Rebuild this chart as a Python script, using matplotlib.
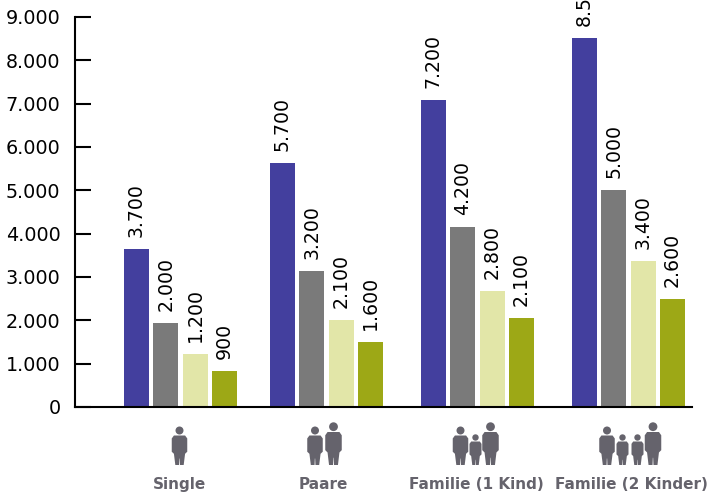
#!/usr/bin/env python3
"""Grouped bars by household type, with pictograms under each group."""

import matplotlib
import matplotlib.pyplot as plt
from matplotlib.patches import Circle, Polygon

matplotlib.use("Agg")

# Colors
BLUE = "#433f9e"
GRAY = "#7a7a7a"
PALE = "#e2e6a8"
OLIVE = "#9da816"
ICON = "#65636c"

W, H = 711, 494
DPI = 100

# Data
categories = ["Single", "Paare", "Familie (1 Kind)", "Familie (2 Kinder)"]
group_left = [124, 270, 421, 572]
series_1 = [3650, 5630, 7085, 8515]
series_2 = [1940, 3140, 4155, 5010]
series_3 = [1225, 2010, 2680, 3370]
series_4 = [830, 1500, 2055, 2490]
labels_1 = ["3.700", "5.700", "7.200", "8.500"]
labels_2 = ["2.000", "3.200", "4.200", "5.000"]
labels_3 = ["1.200", "2.100", "2.800", "3.400"]
labels_4 = ["900", "1.600", "2.100", "2.600"]
yticks = list(range(0, 10000, 1000))
yticklabels = ["0", "1.000", "2.000", "3.000", "4.000", "5.000", "6.000", "7.000", "8.000", "9.000"]

# Pictograms: (center x, kind) per group
icons = [
    [(179.5, "adult")],
    [(315, "adult"), (333.5, "tall")],
    [(460.5, "adult"), (475.5, "child"), (490.5, "tall")],
    [(607, "adult"), (622.5, "child"), (637.5, "child"), (653, "tall")],
]
kinds = {
    # head y, head radius, body top, body width
    "adult": (430.5, 4.0, 435.5, 15.5),
    "tall": (426.7, 4.4, 432, 16.5),
    "child": (437.5, 3.2, 441.5, 12),
}
label_x = [180, 323.5, 476, 631.5]

BODY = [(-.36, 0), (.36, 0), (.5, .1), (.5, .55), (.36, .62), (.27, 1), (.03, 1), (.01, .78),
        (-.01, .78), (-.03, 1), (-.27, 1), (-.36, .62), (-.5, .55), (-.5, .1)]

fig = plt.figure(figsize=(W / DPI, H / DPI), dpi=DPI)
ax = fig.add_axes([75 / W, 1 - 407 / H, (692 - 75) / W, 390 / H])
ax.set_xlim(75, 692)
ax.set_ylim(0, 9000)

width = 25
step = 29.3
rows = [(series_1, labels_1, BLUE), (series_2, labels_2, GRAY),
        (series_3, labels_3, PALE), (series_4, labels_4, OLIVE)]
for i, (vals, labs, color) in enumerate(rows):
    xs = [g + i * step for g in group_left]
    ax.bar(xs, vals, width, align="edge", color=color, linewidth=0)
    for x, v, lab in zip(xs, vals, labs):
        ax.annotate(lab, (x + width / 2, v), xytext=(0, 8.5), textcoords="offset points",
                    rotation=90, ha="center", va="bottom", fontsize=13.6, color="black")

ax.spines["top"].set_visible(False)
ax.spines["right"].set_visible(False)
ax.spines["left"].set_linewidth(1.5)
ax.spines["bottom"].set_linewidth(1.5)
ax.set_xticks([])
ax.set_yticks(yticks)
ax.set_yticklabels(yticklabels, fontsize=13.8)
ax.tick_params(axis="y", direction="in", length=11.5, width=1.5, pad=10.5)

# Overlay in pixel coordinates for pictograms and group names
ov = fig.add_axes([0, 0, 1, 1])
ov.set_xlim(0, W)
ov.set_ylim(H, 0)
ov.axis("off")
ov.patch.set_alpha(0)

for group in icons:
    for cx, kind in group:
        head_y, r, top, w = kinds[kind]
        ov.add_patch(Circle((cx, head_y), r, color=ICON, linewidth=0))
        pts = [(cx + px * w, top + py * (465 - top)) for px, py in BODY]
        ov.add_patch(Polygon(pts, closed=True, color=ICON, linewidth=0))

for x, name in zip(label_x, categories):
    ov.text(x, 484, name, ha="center", va="center", fontsize=11, fontweight="bold", color=ICON)

fig.savefig("out.png", dpi=DPI, facecolor="white")
